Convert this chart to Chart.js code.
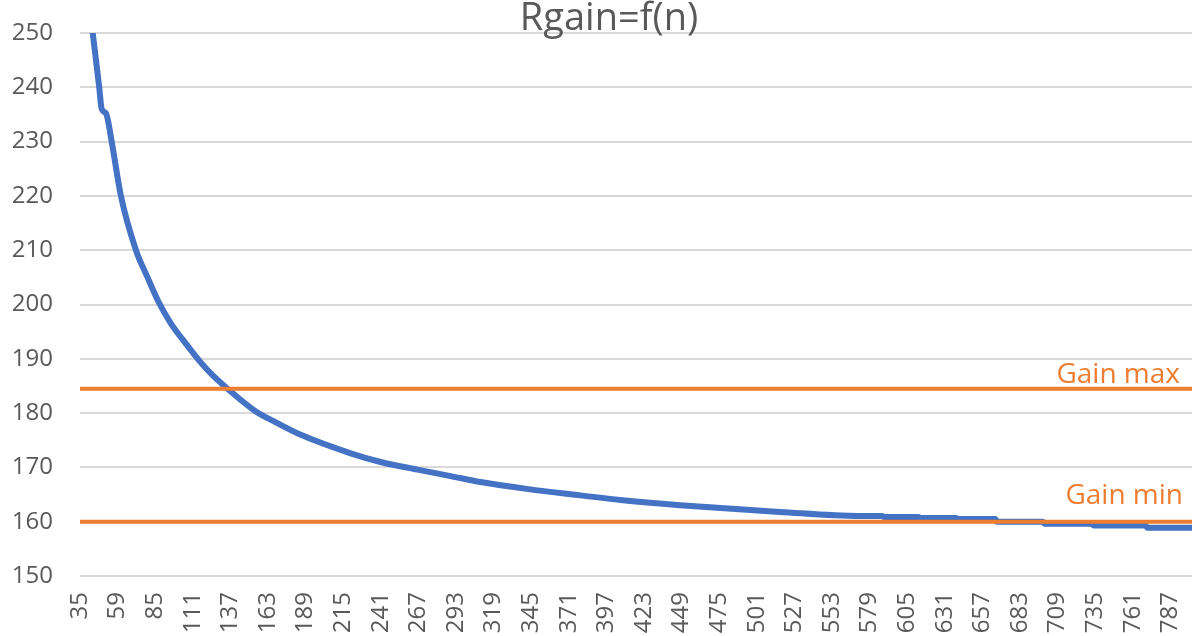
<!DOCTYPE html>
<html>
<head>
<meta charset="utf-8">
<script src="https://cdn.jsdelivr.net/npm/chart.js@4.4.1/dist/chart.umd.min.js"></script>
<style>
  html, body { margin: 0; padding: 0; background: #ffffff; }
  #wrap { width: 1192px; height: 636px; position: relative; }
</style>
</head>
<body>
<div id="wrap"><canvas id="c"></canvas></div>
<script>
// ---- data ----
const titleText = 'Rgain=f(n)';
const tickLabels = ['35','59','85','111','137','163','189','215','241','267','293','319','345','371','397','423','449','475','501','527','553','579','605','631','657','683','709','735','761','787'];
const categoriesPerTick = 26;
const lastCategory = 769;           // category index at the right edge of the plot
// category index (0 = first category "35") and Rgain value of the curve
const curveCategory = [0, 4, 8.8, 13.3, 15.0, 18.0, 21.9, 28.3, 38.7, 46.7, 54.1, 62.9, 73.2, 83.6, 92, 102, 121.6, 135.4, 152.7, 187.2, 207.9, 233.3, 256.3, 277, 310, 346, 373.7, 415, 484, 539, 555, 556, 580, 581, 606, 607, 633, 634, 666, 667, 700, 701, 737, 738, 769];
const curveValues   = [271, 261, 250, 240, 236.0, 235.2, 230, 220, 210, 205.0, 200.6, 196.5, 192.8, 189.3, 186.9, 184.5, 180.3, 178.3, 176.0, 172.6, 171.0, 169.6, 168.4, 167.3, 166.0, 164.85, 164.0, 163.05, 161.8, 161.05, 161.05, 160.85, 160.85, 160.7, 160.7, 160.5, 160.5, 160.0, 160.0, 159.6, 159.6, 159.3, 159.3, 158.9, 158.9];
const gainMax = 184.5;
const gainMin = 160;
const gainLabels = ['Gain max', 'Gain min'];
const yMin = 150, yMax = 250, yStep = 10;

// ---- build ----
const curvePoints = curveCategory.map((c, i) => ({ x: c, y: curveValues[i] }));
const hLine = v => [{ x: 0, y: v }, { x: lastCategory, y: v }];

const FONT = '"Open Sans", "Noto Sans", sans-serif';
const TXT = '#595959';
const ORANGE = '#ED7D31';
const BLUE = '#4472C4';

const gainLabelPlugin = {
  id: 'gainLabels',
  afterLayout(chart) {
    // the reference title sits slightly right of the canvas centre
    if (chart.titleBlock) { chart.titleBlock.left += 13; chart.titleBlock.right += 13; }
  },
  afterDatasetsDraw(chart) {
    const { ctx, chartArea, scales: { y } } = chart;
    ctx.save();
    ctx.font = '28px ' + FONT;
    ctx.fillStyle = ORANGE;
    ctx.textAlign = 'right';
    ctx.textBaseline = 'alphabetic';
    ctx.fillText(gainLabels[0], chartArea.right - 12, y.getPixelForValue(gainMax) - 6);
    ctx.fillText(gainLabels[1], chartArea.right - 9, y.getPixelForValue(gainMin) - 18);
    ctx.restore();
  }
};

new Chart(document.getElementById('c'), {
  type: 'line',
  data: {
    datasets: [
      { label: 'Rgain', data: curvePoints, borderColor: BLUE, borderWidth: 6, pointRadius: 0,
        cubicInterpolationMode: 'monotone', clip: 0, order: 2, borderCapStyle: 'butt' },
      { label: gainLabels[0], data: hLine(gainMax), borderColor: ORANGE, borderWidth: 4, pointRadius: 0, clip: 0, order: 1 },
      { label: gainLabels[1], data: hLine(gainMin), borderColor: ORANGE, borderWidth: 4, pointRadius: 0, clip: 0, order: 1 }
    ]
  },
  options: {
    responsive: true,
    maintainAspectRatio: false,
    animation: false,
    layout: { padding: { left: 0, right: 0, top: 0, bottom: 0 } },
    plugins: {
      legend: { display: false },
      tooltip: { enabled: false },
      title: {
        display: true, text: titleText, color: TXT,
        font: { family: FONT, size: 38, weight: 'normal' },
        padding: { top: -3.5, bottom: -9.1 }
      }
    },
    scales: {
      x: {
        type: 'linear', min: 0, max: lastCategory,
        afterBuildTicks: s => { s.ticks = tickLabels.map((t, i) => ({ value: i * categoriesPerTick })); },
        afterFit: s => { s.height = 60; s.paddingLeft = 0; s.paddingRight = 0; },
        grid: { display: false, drawTicks: false },
        border: { display: false },
        ticks: {
          autoSkip: false, minRotation: 90, maxRotation: 90, padding: 16,
          color: TXT, font: { family: FONT, size: 24 },
          callback: (v, i) => tickLabels[i]
        }
      },
      y: {
        min: yMin, max: yMax,
        afterFit: s => { s.width = 80; s.paddingTop = 0; s.paddingBottom = 0; },
        grid: { color: '#d9d9d9', lineWidth: 2, drawTicks: false },
        border: { display: false },
        ticks: { stepSize: yStep, padding: 27, color: TXT, font: { family: FONT, size: 24 } }
      }
    }
  },
  plugins: [gainLabelPlugin]
});
</script>
</body>
</html>
